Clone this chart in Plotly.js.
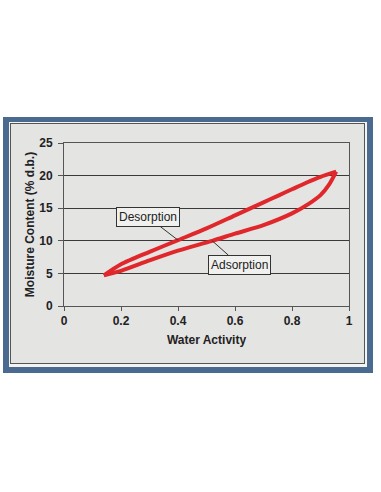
<!DOCTYPE html>
<html>
<head>
<meta charset="utf-8">
<script src="https://cdn.plot.ly/plotly-3.0.1.min.js"></script>
<style>
  html, body { margin: 0; padding: 0; background: #ffffff; width: 381px; height: 492px; overflow: hidden; }
  #frame { position: absolute; left: 3px; top: 117px; width: 370px; height: 256px; background: #4b6a8f; }
  #gap { position: absolute; left: 9px; top: 122px; width: 358px; height: 245px; background: #f4f4f4; }
  #panel { position: absolute; left: 10px; top: 123px; width: 353px; height: 239px; background: #e4e4e2; border: 1px solid #555555; }
  #chart { position: absolute; left: 0; top: 0; width: 381px; height: 492px; }
</style>
</head>
<body>
<div id="frame"></div>
<div id="gap"></div>
<div id="panel"></div>
<div id="chart"></div>
<script>
// Desorption branch (from high water activity down)
var desorptionAw = [0.955, 0.90, 0.85, 0.80, 0.75, 0.70, 0.60, 0.50, 0.40, 0.30, 0.20, 0.14];
var desorptionMc = [20.6, 19.8, 18.9, 17.9, 16.9, 15.9, 13.9, 11.9, 10.1, 8.3, 6.4, 4.7];
// Adsorption branch (from low water activity up)
var adsorptionAw = [0.14, 0.20, 0.30, 0.40, 0.52, 0.60, 0.70, 0.80, 0.86, 0.90, 0.93, 0.955];
var adsorptionMc = [4.7, 5.4, 7.0, 8.5, 10.0, 11.1, 12.4, 14.2, 15.7, 17.0, 18.6, 20.6];

var xTicks = [0, 0.2, 0.4, 0.6, 0.8, 1];
var xTickText = ['0', '0.2', '0.4', '0.6', '0.8', '1'];
var yTicks = [0, 5, 10, 15, 20, 25];

var red = '#e0282c';
var traces = [
  { x: desorptionAw, y: desorptionMc, mode: 'lines', type: 'scatter', name: 'Desorption',
    line: { color: red, width: 4, shape: 'spline', smoothing: 0.7 } },
  { x: adsorptionAw, y: adsorptionMc, mode: 'lines', type: 'scatter', name: 'Adsorption',
    line: { color: red, width: 4, shape: 'spline', smoothing: 0.7 } }
];

var fam = 'Liberation Sans, Arial, sans-serif';

var layout = {
  width: 381, height: 492,
  margin: { l: 64, r: 32, t: 143, b: 186, pad: 0 },
  paper_bgcolor: 'rgba(0,0,0,0)',
  plot_bgcolor: '#e4e4e2',
  showlegend: false,
  font: { family: fam, color: '#222222' },
  xaxis: {
    range: [0, 1], tickvals: xTicks, ticktext: xTickText,
    showgrid: false, zeroline: false,
    showline: true, linecolor: '#555555', linewidth: 1, mirror: true,
    ticks: 'outside', ticklen: 4, tickcolor: '#555555',
    tickfont: { family: fam, size: 12, color: '#222222', weight: 'bold' },
    title: { text: '<b>Water Activity</b>', font: { family: fam, size: 12, color: '#222222' }, standoff: 8 }
  },
  yaxis: {
    range: [0, 25], tickvals: yTicks,
    showgrid: true, gridcolor: '#3a3a3a', gridwidth: 1, zeroline: false,
    showline: true, linecolor: '#555555', linewidth: 1, mirror: true,
    ticks: 'outside', ticklen: 5, tickcolor: '#555555',
    ticklabelstandoff: 3,
    tickfont: { family: fam, size: 12, color: '#222222', weight: 'bold' },
    title: { text: '<b>Moisture Content (% d.b.)</b>', font: { family: fam, size: 12, color: '#222222' }, standoff: 2 }
  },
  annotations: [
    { x: 0.40, y: 10.1, xref: 'x', yref: 'y', text: 'Desorption', showarrow: true,
      arrowhead: 0, arrowwidth: 1, arrowcolor: '#333333', ax: -30, ay: -23,
      font: { family: fam, size: 12, color: '#222222' },
      bgcolor: '#f0f0ee', bordercolor: '#333333', borderwidth: 1, borderpad: 2 },
    { x: 0.52, y: 10.0, xref: 'x', yref: 'y', text: 'Adsorption', showarrow: true,
      arrowhead: 0, arrowwidth: 1, arrowcolor: '#333333', ax: 27, ay: 24,
      font: { family: fam, size: 12, color: '#222222' },
      bgcolor: '#f0f0ee', bordercolor: '#333333', borderwidth: 1, borderpad: 2 }
  ]
};

Plotly.newPlot('chart', traces, layout, { staticPlot: true, displayModeBar: false });
</script>
</body>
</html>
